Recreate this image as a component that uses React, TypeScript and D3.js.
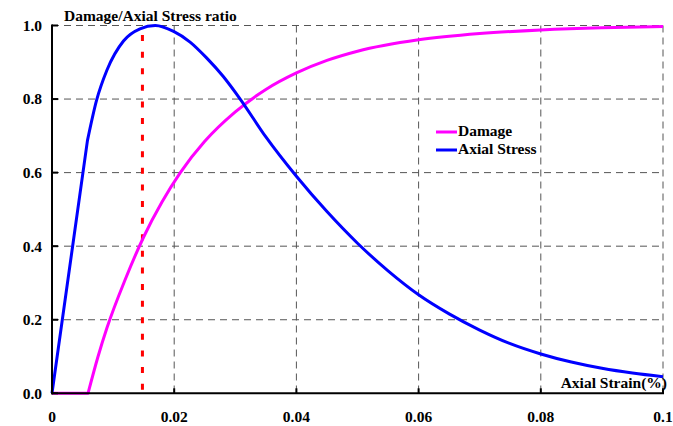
import React, { useRef, useEffect } from 'react'
import * as d3 from 'd3'

// values
const strainTicks = [0, 0.02, 0.04, 0.06, 0.08, 0.1]
const strainTickLabels = ['0', '0.02', '0.04', '0.06', '0.08', '0.1']
const ratioTicks = [0, 0.2, 0.4, 0.6, 0.8, 1.0]
const ratioTickLabels = ['0.0', '0.2', '0.4', '0.6', '0.8', '1.0']

const stressStrain = [0, 0.0058, 0.0073, 0.009, 0.0117, 0.0144, 0.0169, 0.0199, 0.0226, 0.0253, 0.028, 0.0308, 0.035, 0.04, 0.045, 0.05, 0.055, 0.06, 0.065, 0.07, 0.075, 0.08, 0.085, 0.09, 0.095, 0.1]
const stressRatio = [0, 0.687, 0.797, 0.879, 0.958, 0.991, 1.0, 0.984, 0.955, 0.912, 0.862, 0.8, 0.697, 0.59, 0.494, 0.408, 0.333, 0.268, 0.216, 0.172, 0.135, 0.107, 0.085, 0.068, 0.055, 0.045]
const stressKink = 1

const damageStrain = [0, 0.0059, 0.0075, 0.009, 0.012, 0.015, 0.018, 0.021, 0.025, 0.03, 0.035, 0.04, 0.045, 0.05, 0.06, 0.07, 0.08, 0.09, 0.1]
const damageValue = [0, 0, 0.098, 0.178, 0.31, 0.425, 0.52, 0.6, 0.685, 0.765, 0.826, 0.871, 0.905, 0.93, 0.961, 0.978, 0.988, 0.994, 0.997]
const damageKink = 1

const peakStrain = 0.0148
const peakLineTop = 0.974

const legendItems = [
  { label: 'Damage', color: '#ff00ff' },
  { label: 'Axial Stress', color: '#0000ff' },
]

const W = 673
const H = 426
const FONT = '"Liberation Serif", "Times New Roman", serif'

export default function App() {
  const svgRef = useRef<SVGSVGElement | null>(null)

  useEffect(() => {
    if (!svgRef.current) return
    const svg = d3.select(svgRef.current)
    svg.selectAll('*').remove()

    const x = d3.scaleLinear().domain([0, 0.1]).range([52, 663])
    const y = d3.scaleLinear().domain([0, 1]).range([393.3, 25.5])

    // grid
    const grid = svg.append('g')
    grid.selectAll('line.h')
      .data(ratioTicks.filter(d => d > 0))
      .enter().append('line')
      .attr('x1', x(0)).attr('x2', x(0.1))
      .attr('y1', d => y(d)).attr('y2', d => y(d))
      .attr('stroke', '#555').attr('stroke-width', 1).attr('stroke-dasharray', '7,5')
    grid.selectAll('line.v')
      .data(strainTicks.filter(d => d > 0))
      .enter().append('line')
      .attr('x1', d => x(d)).attr('x2', d => x(d))
      .attr('y1', y(1)).attr('y2', y(0))
      .attr('stroke', '#555').attr('stroke-width', 1).attr('stroke-dasharray', '7,5')

    // peak marker
    svg.append('line')
      .attr('x1', x(peakStrain)).attr('x2', x(peakStrain))
      .attr('y1', y(peakLineTop)).attr('y2', y(0))
      .attr('stroke', '#ff0000').attr('stroke-width', 3).attr('stroke-dasharray', '6,10.6')

    const drawSeries = (xs: number[], ys: number[], kink: number, color: string) => {
      const pts: [number, number][] = xs.map((v, i) => [v, ys[i]])
      const lin = d3.line<[number, number]>().x(d => x(d[0])).y(d => y(d[1])).curve(d3.curveLinear)
      const smooth = d3.line<[number, number]>().x(d => x(d[0])).y(d => y(d[1])).curve(d3.curveMonotoneX)
      const pathD = (lin(pts.slice(0, kink + 1)) || '') + (smooth(pts.slice(kink)) || '').replace(/^M/, 'L')
      svg.append('path')
        .attr('d', pathD)
        .attr('fill', 'none')
        .attr('stroke', color)
        .attr('stroke-width', 3)
        .attr('stroke-linejoin', 'round')
    }
    drawSeries(damageStrain, damageValue, damageKink, '#ff00ff')
    drawSeries(stressStrain, stressRatio, stressKink, '#0000ff')

    // axes
    const axis = svg.append('g')
    axis.append('line')
      .attr('x1', x(0)).attr('x2', x(0)).attr('y1', y(1) - 1).attr('y2', y(0) + 1)
      .attr('stroke', '#000').attr('stroke-width', 2)
    axis.append('line')
      .attr('x1', x(0) - 1).attr('x2', x(0.1) + 1).attr('y1', y(0)).attr('y2', y(0))
      .attr('stroke', '#000').attr('stroke-width', 2)
    axis.selectAll('line.yt')
      .data(ratioTicks)
      .enter().append('line')
      .attr('x1', x(0)).attr('x2', x(0) + 6)
      .attr('y1', d => y(d)).attr('y2', d => y(d))
      .attr('stroke', '#000').attr('stroke-width', 2)
    axis.selectAll('line.xt')
      .data(strainTicks)
      .enter().append('line')
      .attr('x1', d => x(d)).attr('x2', d => x(d))
      .attr('y1', y(0)).attr('y2', y(0) - 5)
      .attr('stroke', '#000').attr('stroke-width', 2)

    axis.selectAll('text.yl')
      .data(ratioTicks)
      .enter().append('text')
      .attr('x', x(0) - 10).attr('y', d => y(d)).attr('dy', '0.35em')
      .attr('text-anchor', 'end')
      .attr('font-family', FONT).attr('font-weight', 'bold').attr('font-size', 15.5)
      .text((d, i) => ratioTickLabels[i])
    axis.selectAll('text.xl')
      .data(strainTicks)
      .enter().append('text')
      .attr('x', d => x(d)).attr('y', 422)
      .attr('text-anchor', 'middle')
      .attr('font-family', FONT).attr('font-weight', 'bold').attr('font-size', 15.5)
      .text((d, i) => strainTickLabels[i])

    svg.append('text')
      .attr('x', 64).attr('y', 20.5)
      .attr('font-family', FONT).attr('font-weight', 'bold').attr('font-size', 15.5)
      .text('Damage/Axial Stress ratio')
    svg.append('text')
      .attr('x', 667).attr('y', 388)
      .attr('text-anchor', 'end')
      .attr('font-family', FONT).attr('font-weight', 'bold').attr('font-size', 15.5)
      .text('Axial Strain(%)')

    // legend
    const legend = svg.append('g').attr('transform', 'translate(436,132)')
    legendItems.forEach((item, i) => {
      legend.append('line')
        .attr('x1', 0).attr('x2', 21).attr('y1', i * 18).attr('y2', i * 18)
        .attr('stroke', item.color).attr('stroke-width', 3)
      legend.append('text')
        .attr('x', 22).attr('y', i * 18 + 4)
        .attr('font-family', FONT).attr('font-weight', 'bold').attr('font-size', 15.5)
        .text(item.label)
    })
  }, [])

  return (
    <svg ref={svgRef} width={W} height={H}
      style={{ position: 'absolute', left: 0, top: 0, background: '#fff' }} />
  )
}
